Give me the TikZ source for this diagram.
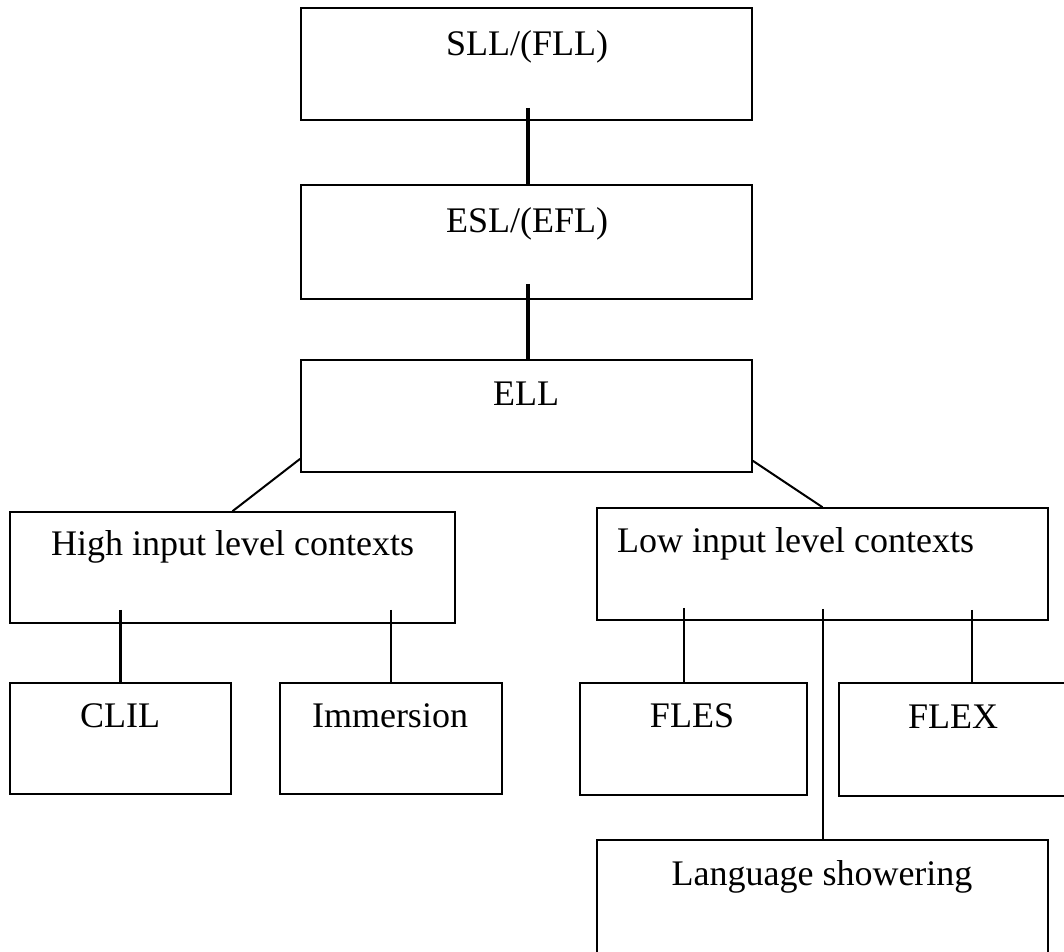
\documentclass[tikz,border=0pt]{standalone}
\usepackage{fontspec}
\setmainfont{Liberation Serif}
\usetikzlibrary{calc}
\begin{document}
\begin{tikzpicture}[x=1pt,y=-1pt,
  box/.style={draw=black, line width=1.6pt, inner sep=0pt, rectangle},
  lbl/.style={font=\fontsize{36}{40}\selectfont, inner sep=0pt, anchor=base},
  conn/.style={line width=2.3pt},
  thick conn/.style={line width=3.2pt},
  diag/.style={line width=2pt}]
\useasboundingbox (0,0) rectangle (1064,951);
\clip (0,0) rectangle (1064,951);
% boxes
\node[box, minimum width=451pt, minimum height=112pt] (sll) at (526.5,64) {};
\node[box, minimum width=451pt, minimum height=114pt] (esl) at (526.5,242) {};
\node[box, minimum width=451pt, minimum height=112pt] (ell) at (526.5,416) {};
\node[box, minimum width=445pt, minimum height=111pt] (high) at (232.5,567.5) {};
\node[box, minimum width=451pt, minimum height=112pt] (low) at (822.5,564) {};
\node[box, minimum width=221pt, minimum height=111pt] (clil) at (120.5,738.5) {};
\node[box, minimum width=222pt, minimum height=111pt] (imm) at (391,738.5) {};
\node[box, minimum width=227pt, minimum height=112pt] (fles) at (693.5,739) {};
\node[box, minimum width=241pt, minimum height=113pt] (flex) at (959.5,739.5) {};
\node[box, minimum width=451pt, minimum height=115pt] (lang) at (822.5,897.5) {};
% texts
\node[lbl] (tsll) at (527,55) {SLL/(FLL)};
\node[lbl] (tesl) at (527,232) {ESL/(EFL)};
\node[lbl] (tell) at (526,405) {ELL};
\node[lbl] (thigh) at (232.5,555) {High input level contexts};
\node[lbl, anchor=base west] (tlow) at (617,552) {Low input level contexts};
\node[lbl] (tclil) at (120,727) {CLIL};
\node[lbl] (timm) at (390,727) {Immersion};
\node[lbl] (tfles) at (692,727) {FLES};
\node[lbl] (tflex) at (953,728) {FLEX};
\node[lbl] (tlang) at (822,885) {Language showering};
% connector end points
\coordinate (c1) at ($(sll.south)+(1.5,-13)$);
\coordinate (c2) at ($(esl.south)+(1.5,-16)$);
\coordinate (c3) at ($(high.south)+(-112,-14)$);
\coordinate (c4) at ($(high.south)+(158.5,-14)$);
\coordinate (c5) at ($(low.south)+(-138.5,-13)$);
\coordinate (c6) at ($(low.south)+(149.5,-11)$);
\coordinate (c7) at ($(low.south)+(0.5,-12)$);
% connectors
\draw[thick conn] (c1) -- ($(esl.north)+(1.5,0)$);
\draw[thick conn] (c2) -- ($(ell.north)+(1.5,0)$);
\draw[diag] ($(ell.south west)+(0,-14)$) -- (high.north);
\draw[diag] ($(ell.south east)+(0,-12)$) -- (low.north);
\draw[conn] (c3) -- (c3 |- clil.north);
\draw[conn] (c4) -- (c4 |- imm.north);
\draw[conn] (c5) -- (c5 |- fles.north);
\draw[conn] (c6) -- (c6 |- flex.north);
\draw[conn] (c7) -- (c7 |- lang.north);
\end{tikzpicture}
\end{document}
